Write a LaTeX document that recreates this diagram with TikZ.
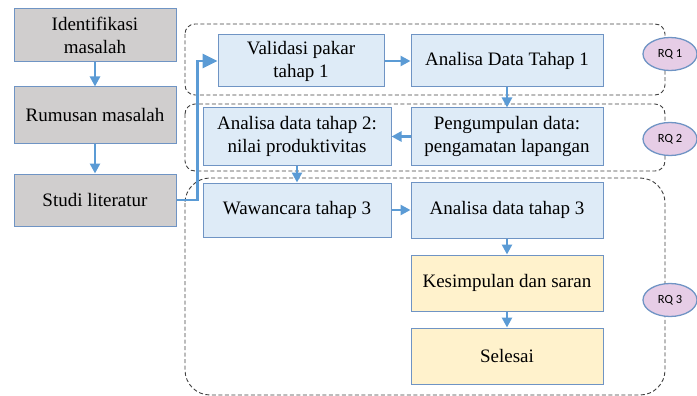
\documentclass[tikz,border=0pt]{standalone}
\usepackage{fontspec}
\setmainfont{Liberation Serif}
\newfontfamily\rqfont{Carlito}
\usepackage{tikz}
\usetikzlibrary{calc}
\usetikzlibrary{arrows.meta}
\usetikzlibrary{shapes.geometric}
\definecolor{dqcece}{HTML}{D0CECE}
\definecolor{deebfi}{HTML}{DEEBF7}
\definecolor{fffecc}{HTML}{FFF2CC}
\definecolor{eucdeu}{HTML}{E6CDE6}
\definecolor{zbpbdz}{HTML}{5B9BD5}
\definecolor{ufptct}{HTML}{6F94C4}
\definecolor{tqtqtq}{HTML}{404040}
\tikzstyle{every node}=[font=\fontsize{19}{23}\selectfont]
\tikzstyle{kotak}=[draw=ufptct,line width=1pt,align=center,inner sep=0pt,minimum height=56pt,minimum width=192pt]
\tikzstyle{abu}=[kotak,fill=dqcece,minimum width=162pt]
\tikzstyle{biru}=[kotak,fill=deebfi]
\tikzstyle{kuning}=[kotak,fill=fffecc]
\tikzstyle{rq}=[ellipse,draw=ufptct,line width=1.3pt,fill=eucdeu,inner sep=0pt,minimum width=54pt,minimum height=33pt,font=\rqfont\fontsize{12.5}{14}\selectfont]
\tikzstyle{daerah}=[line width=0.9pt,color=tqtqtq,dash pattern=on 4pt off 2.5pt]
\tikzstyle{panah}=[->,line width=2.6pt,color=zbpbdz]

\begin{document}
\begin{tikzpicture}[>={Triangle[length=10pt,width=10pt]},x=1pt,y=-1pt]
            \useasboundingbox (0,0) rectangle (697,396);
            % daerah RQ
            \draw [daerah,rounded corners=10pt] (185,24) rectangle (665,95);
            \draw [daerah,rounded corners=10pt] (185,104) rectangle (665,171);
            \draw [daerah,rounded corners=25pt] (185,178) rectangle (665,395);

            \node [abu,minimum height=53pt] (iden) at (95,35.5) {Identifikasi\\masalah};
            \node [abu] (rumus) at (95,115) {Rumusan masalah};
            \node [abu,minimum height=52pt] (studi) at (95,200) {Studi literatur};

            \node [biru,minimum width=166pt,minimum height=52pt] (valid) at (301,61) {Validasi pakar\\tahap 1};
            \node [biru,minimum height=52pt] (ana1) at (507,61) {Analisa Data Tahap 1};
            \node [biru,minimum width=188pt,minimum height=57pt] (ana2) at (297,136.5) {Analisa data tahap 2:\\nilai produktivitas};
            \node [biru,minimum height=57pt] (kumpul) at (507,136.5) {Pengumpulan data:\\pengamatan lapangan};
            \node [biru,minimum width=188pt,minimum height=54pt] (wawan) at (297,210) {Wawancara tahap 3};
            \node [biru] (ana3) at (507,210) {Analisa data tahap 3};
            \node [kuning] (simpul) at (507,283) {Kesimpulan dan saran};
            \node [kuning] (selesai) at (507,356) {Selesai};

            \node [rq] (rq1) at (670,54) {RQ 1};
            \node [rq] (rq2) at (670,139) {RQ 2};
            \node [rq] (rq3) at (670,300) {RQ 3};

            \draw [panah] (iden) -- (rumus);
            \draw [panah] (rumus) -- (studi);
            \draw [panah,>={Triangle[length=15pt,width=14pt]}] (studi.east) -- ($(studi.east)+(21,0)$) |- (valid.west);
            \draw [panah] (valid) -- (ana1);
            \draw [panah] (ana1) -- (kumpul);
            \draw [panah] (kumpul) -- (ana2);
            \draw [panah] (ana2) -- (wawan);
            \draw [panah] (wawan) -- (ana3);
            \draw [panah] (ana3) -- (simpul);
            \draw [panah] (simpul) -- (selesai);
            \end{tikzpicture}
\end{document}
